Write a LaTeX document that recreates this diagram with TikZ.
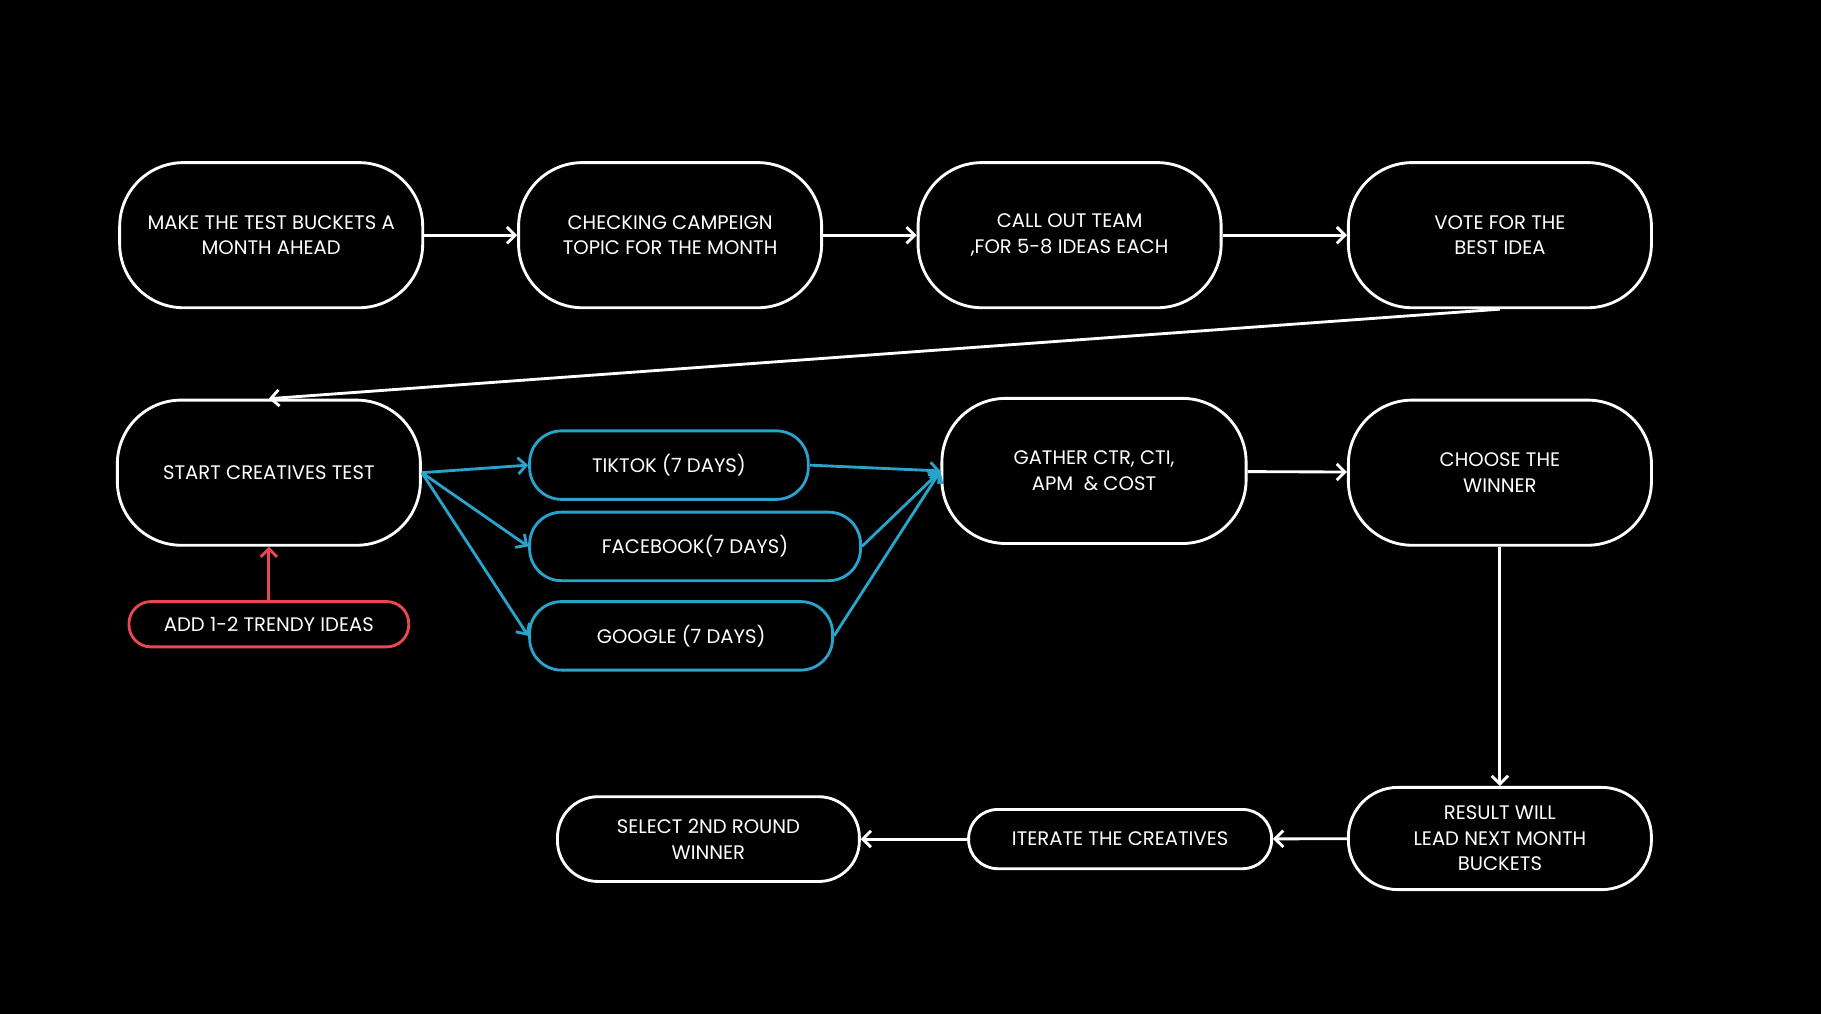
\documentclass[tikz,border=0pt]{standalone}
\usepackage{fontspec}
\setmainfont{Poppins}
\usetikzlibrary{arrows.meta}
\tikzset{
  big/.style={draw=white, line width=1.4pt, rounded corners=1.1cm, text=white, align=center,
    minimum width=5.22cm, minimum height=2.5cm, inner sep=0pt, font=\fontsize{9.6}{12.5}\selectfont},
  pill/.style={draw=#1, line width=1.4pt, rounded corners=0.55cm, text=white, align=center,
    minimum height=1.18cm, inner sep=0pt, font=\fontsize{9.6}{12.5}\selectfont},
  line/.style={draw=white, line width=1.4pt, -{Straight Barb[length=4pt,width=8pt]}},
}
\definecolor{teal}{HTML}{2AA3CC}
\definecolor{coral}{HTML}{E8484E}
\begin{document}
\begin{tikzpicture}[x=0.02cm, y=-0.02cm]
            \fill[black] (0,0) rectangle (1568,873);
            % Nodes with manual coordinates
            \node[big] (buckets) at (233.5,202.5) {MAKE THE TEST BUCKETS A\\MONTH AHEAD};
            \node[big] (topic) at (577,202.5) {CHECKING CAMPEIGN\\TOPIC FOR THE MONTH};
            \node[big] (team) at (921,202.5) {CALL OUT TEAM\\,FOR 5-8 IDEAS EACH};
            \node[big] (vote) at (1291.5,202.5) {VOTE FOR THE\\BEST IDEA};
            \node[big] (start) at (231.5,407) {START CREATIVES TEST};
            \node[pill=coral, rounded corners=0.38cm, minimum width=4.82cm, minimum height=0.78cm] (trendy) at (231.5,537.5) {ADD 1-2 TRENDY IDEAS};
            \node[pill=teal, minimum width=4.8cm] (tiktok) at (576,400.5) {TIKTOK (7 DAYS)};
            \node[pill=teal, minimum width=5.7cm] (facebook) at (598.5,470.5) {FACEBOOK(7 DAYS)};
            \node[pill=teal, minimum width=5.22cm] (google) at (586.5,547.5) {GOOGLE (7 DAYS)};
            \node[big, minimum width=5.24cm] (gather) at (942,405.5) {GATHER CTR, CTI,\\APM \ \& COST};
            \node[big] (winner) at (1291.5,407) {CHOOSE THE\\WINNER};
            \node[big, minimum height=1.76cm, rounded corners=0.85cm] (result) at (1291.5,722) {RESULT WILL\\LEAD NEXT MONTH\\BUCKETS};
            \node[pill=white, minimum width=5.22cm, minimum height=1.02cm, rounded corners=0.5cm] (iterate) at (964.5,722.5) {ITERATE THE CREATIVES};
            \node[pill=white, minimum width=5.2cm, minimum height=1.46cm, rounded corners=0.7cm] (second) at (610,722.5) {SELECT 2ND ROUND\\WINNER};

            % Edges
            \draw[line] (buckets) -- (topic);
            \draw[line] (topic) -- (team);
            \draw[line] (team) -- (vote);
            \draw[line] (vote.south) -- (start.north);
            \draw[line, draw=coral] (trendy) -- (start);
            \draw[line, draw=teal] (start.east) -- (tiktok.west);
            \draw[line, draw=teal] (start.east) -- (facebook.west);
            \draw[line, draw=teal] (start.east) -- (google.west);
            \draw[line, draw=teal] (tiktok.east) -- (gather.west);
            \draw[line, draw=teal] (facebook.east) -- (gather.west);
            \draw[line, draw=teal] (google.east) -- (gather.west);
            \draw[line] (gather) -- (winner);
            \draw[line] (winner) -- (result);
            \draw[line] (result) -- (iterate);
            \draw[line] (iterate) -- (second);
\end{tikzpicture}
\end{document}
